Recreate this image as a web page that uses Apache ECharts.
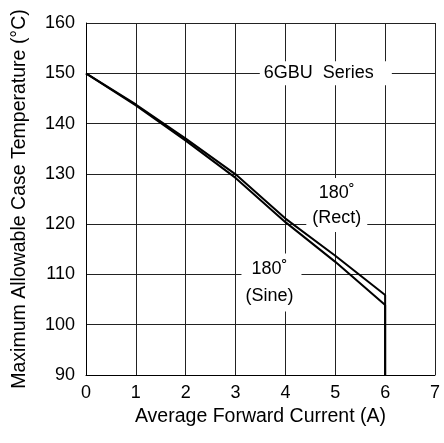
<!DOCTYPE html>
<html>
<head>
<meta charset="utf-8">
<script src="https://cdn.jsdelivr.net/npm/echarts@6/dist/echarts.min.js"></script>
<style>html,body{margin:0;padding:0;background:#fff;}#c{width:444px;height:443px;}</style>
</head>
<body>
<div id="c"></div>
<script>
const currentA = [0, 1, 2, 3, 4, 5, 6, 6];
const rectTemp = [150, 143.8, 137.0, 129.9, 121.1, 113.7, 105.9, 90];
const sineTemp = [150, 143.6, 136.6, 129.2, 120.4, 112.5, 103.9, 90];
const xTicks = [0, 1, 2, 3, 4, 5, 6, 7];
const yTicks = [90, 100, 110, 120, 130, 140, 150, 160];
const seriesTitle = '6GBU  Series';
const rectLabel = '180˚\n(Rect)';
const sineLabel = '180˚\n(Sine)';

const FONT = 'Liberation Sans';
const chart = echarts.init(document.getElementById('c'));
const pts = (ys) => currentA.map((x, i) => [x, ys[i]]);
const lbl = (text, coord, pad, lh) => ({
  coord: coord, symbol: 'rect', symbolSize: 0, value: text,
  label: {show: true, position: 'inside', formatter: text, color: '#000',
    fontFamily: FONT, fontSize: 18, lineHeight: lh, backgroundColor: '#fff', padding: pad}
});
chart.setOption({
  animation: false,
  backgroundColor: '#fff',
  grid: {left: 86, right: 9, top: 23, bottom: 68},
  xAxis: {
    type: 'value', min: xTicks[0], max: xTicks[xTicks.length - 1], interval: 1,
    name: 'Average Forward Current (A)', nameLocation: 'middle', nameGap: 28,
    nameTextStyle: {fontFamily: FONT, fontSize: 19.5, color: '#000'},
    axisLine: {show: true, lineStyle: {color: '#000', width: 1}},
    axisTick: {show: false},
    axisLabel: {fontFamily: FONT, fontSize: 18, color: '#000', margin: 9},
    splitLine: {show: true, lineStyle: {color: '#222', width: 1}}
  },
  yAxis: {
    type: 'value', min: yTicks[0], max: yTicks[yTicks.length - 1], interval: 10,
    name: 'Maximum Allowable Case Temperature (°C)', nameLocation: 'middle', nameGap: 56,
    nameTextStyle: {fontFamily: FONT, fontSize: 19.5, color: '#000'},
    axisLine: {show: true, lineStyle: {color: '#000', width: 1}},
    axisTick: {show: false},
    axisLabel: {fontFamily: FONT, fontSize: 18, color: '#000', margin: 11},
    splitLine: {show: true, lineStyle: {color: '#222', width: 1}}
  },
  series: [
    {type: 'line', name: 'Rect', data: pts(rectTemp), symbol: 'none', z: 3,
     lineStyle: {color: '#000', width: 2},
     markPoint: {silent: true, z: 5, data: [
       lbl(seriesTitle, [4.81, 150], [1, 18, 1, 4], 22),
       lbl(rectLabel, [5.03, 123.8], [2, 6, 2, 6], 25),
       lbl(sineLabel, [3.72, 108.4], [2, 8, 2, 4], 27)
     ]}},
    {type: 'line', name: 'Sine', data: pts(sineTemp), symbol: 'none', z: 3,
     lineStyle: {color: '#000', width: 2}}
  ]
});
</script>
</body>
</html>
